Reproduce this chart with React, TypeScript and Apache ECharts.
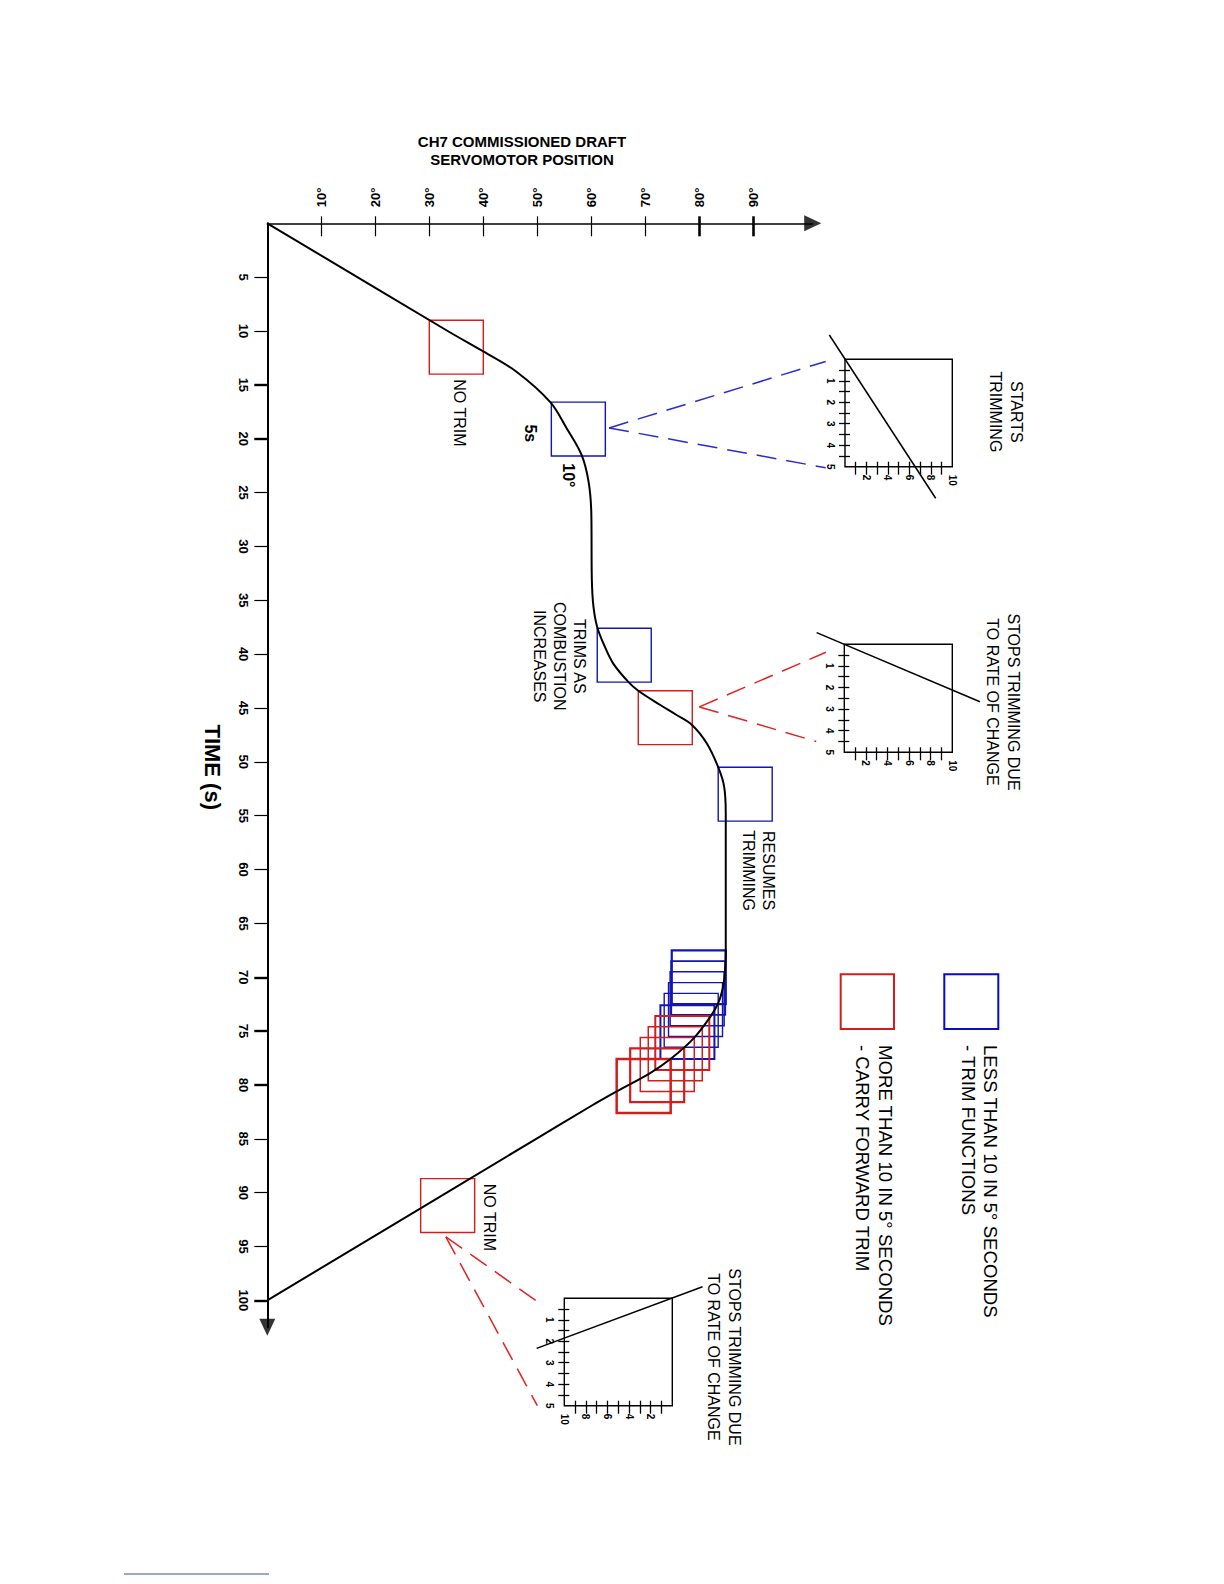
import React, { useEffect, useRef } from "react";
import * as echarts from "echarts";

const FONT = "'Liberation Sans', Arial, Helvetica, sans-serif";
const RED = "#d41c1c";
const BLUE = "#1414b4";
const DASH_RED = "#e02424";
const DASH_BLUE = "#2a2ad0";

// ---- main axes ----
const degreeLabels = [10, 20, 30, 40, 50, 60, 70, 80, 90];
const degreeTicks = [10, 20, 30, 40, 50, 60, 70];
const degreeBoldTicks = [80, 90];
const timeLabels = [5, 10, 15, 20, 25, 30, 35, 40, 45, 50, 55, 60, 65, 70, 75, 80, 85, 90, 95, 100];
const timeTicks = [5, 10, 25, 30, 35, 40, 45, 50, 55, 60, 65, 85, 90, 95];
const timeBoldTicks = [15, 20, 70, 75, 80, 100];
const DEG_MAX = 101;
const TIME_MAX = 102.5;

// ---- servomotor position curve (time s, position deg) ----
const curveTime = [0, 10, 11.9, 13.8, 16.6, 19.0, 21.5, 24.0, 26.9, 33.1, 35.6, 37.5, 39.3, 40.9, 42.6, 43.4, 44.7, 45.65, 46.6, 48.3, 50.5, 52.3, 54.8, 64.7, 67.8, 69.5, 70.9, 72.4, 73.7, 75.7, 77.5, 78.9, 80.6, 82.0, 85, 100];
const curveDeg = [0, 33.4, 40.0, 46.2, 52.4, 55.4, 58.2, 59.5, 60.0, 60.1, 60.4, 61.1, 62.5, 64.1, 66.9, 68.7, 72.7, 75.8, 78.7, 81.4, 83.5, 84.6, 84.9, 84.9, 84.9, 84.76, 84.4, 83.5, 82.0, 78.9, 74.9, 70.9, 64.7, 59.8, 49.8, 0];

// ---- 10 deg x 5 s check windows ----
const WINDOW_DEG = 10;
const WINDOW_SEC = 5;
const markerDegLeft = [30, 52.6, 61.1, 68.7, 83.5, 28.4];
const markerTimeTop = [9, 16.6, 37.6, 43.4, 50.5, 88.7];
const markerIsRed = [1, 0, 0, 1, 0, 1];

const clusterTimeTop = [67.5, 68.5, 69.5, 70.5, 71.5, 72.6, 73.6, 74.6, 75.6, 76.6, 77.6];
const clusterDegRight = [84.9, 84.8, 84.6, 84.3, 83.5, 82.8, 81.85, 80.55, 79.07, 77.2, 74.7];
const clusterIsRed = [0, 0, 0, 0, 0, 0, 1, 1, 1, 1, 1];
const clusterWidth = [2.2, 1.8, 1.5, 1.4, 1.4, 2.0, 2.0, 1.5, 1.5, 2.2, 2.5];

// ---- inset charts (0-10 deg, 0-5 s) ----
const insetTimeLabels = [1, 2, 3, 4, 5];
const insetTimeTicks = [0.5, 1, 1.5, 2, 2.5, 3, 3.5, 4, 4.5];
const insetDegLabels = [2, 4, 6, 8, 10];
const insetDegTicks = [1, 2, 3, 4, 5, 6, 7, 8, 9];
const inset1Deg = [-1.46, 8.45];
const inset1Time = [-1.13, 6.47];
const inset2Deg = [-2.56, 12.56];
const inset2Time = [-0.54, 2.66];
const inset3Deg = [-2.8, 12.56];
const inset3Time = [-0.54, 2.33];
const insetLines = [
  [inset1Deg, inset1Time],
  [inset2Deg, inset2Time],
  [inset3Deg, inset3Time],
];
const insetInverseDeg = [false, false, true];

// layout of grids (px)
const MAIN_GRID = { left: 267.3, top: 223.3, width: 545.4, height: 1104 };
const INSET_RECTS = [
  [845, 359.3, 107.3, 107.4],
  [844.3, 644.3, 108, 108],
  [564.3, 1298.3, 108, 107.4],
];

// connectors: tip in main coords [deg, time], ends in inset coords [deg, time]
const connectorTip = [
  [63.3, 19.0],
  [80.0, 44.9],
  [33.06, 94.1],
];
const connectorEnds = [
  [[-1.8, 0.1], [-1.8, 5.05]],
  [[-1.7, 0.37], [-2.6, 4.5]],
  [[12.5, 0.15], [12.5, 5.0]],
];
const connectorColor = [DASH_BLUE, DASH_RED, DASH_RED];

export default function App() {
  const ref = useRef<HTMLDivElement>(null);

  useEffect(() => {
    if (!ref.current) return;
    const chart = echarts.init(ref.current, undefined, { renderer: "svg" });

    const grids: any[] = [
      { ...MAIN_GRID, show: false, containLabel: false, outerBoundsMode: "none" },
      ...INSET_RECTS.map((r) => ({
        left: r[0], top: r[1], width: r[2], height: r[3],
        show: true, borderColor: "#000", borderWidth: 1.4, backgroundColor: "transparent",
        containLabel: false, outerBoundsMode: "none",
      })),
    ];

    const baseAxis = {
      type: "value",
      splitLine: { show: false },
      axisLine: { show: false, onZero: false },
      axisLabel: { show: false },
      axisTick: { show: false },
    };

    const mainDegTickAxis = (values: number[], inside: boolean, len: number, w: number, labels: boolean) => ({
      ...baseAxis,
      gridIndex: 0,
      position: "top",
      min: 0,
      max: DEG_MAX,
      axisLine: labels
        ? { show: true, onZero: false, lineStyle: { color: "#000", width: 1.5 } }
        : { show: false, onZero: false },
      axisTick: { show: true, inside, length: len, customValues: values, lineStyle: { color: "#000", width: w } },
      axisLabel: labels
        ? {
            show: true, customValues: degreeLabels, rotate: -90, margin: 16,
            formatter: "{value}°", color: "#000", fontSize: 13, fontWeight: "bold", fontFamily: FONT,
          }
        : { show: false },
    });

    const xAxes: any[] = [
      mainDegTickAxis(degreeTicks, false, 7, 1.2, true),
      mainDegTickAxis(degreeTicks, true, 13, 1.2, false),
      mainDegTickAxis(degreeBoldTicks, false, 7, 2.6, false),
      mainDegTickAxis(degreeBoldTicks, true, 13, 2.6, false),
    ];
    const yAxes: any[] = [
      {
        ...baseAxis,
        gridIndex: 0, position: "left", inverse: true, min: 0, max: TIME_MAX,
        axisLine: { show: true, onZero: false, lineStyle: { color: "#000", width: 2 } },
        axisTick: { show: true, inside: false, length: 13, customValues: timeTicks, lineStyle: { color: "#000", width: 1.2 } },
        axisLabel: {
          show: true, customValues: timeLabels, rotate: -90, margin: 17,
          color: "#000", fontSize: 13, fontWeight: "bold", fontFamily: FONT,
        },
      },
      {
        ...baseAxis,
        gridIndex: 0, position: "left", inverse: true, min: 0, max: TIME_MAX,
        axisTick: { show: true, inside: false, length: 13, customValues: timeBoldTicks, lineStyle: { color: "#000", width: 2.4 } },
      },
    ];

    INSET_RECTS.forEach((_, k) => {
      const g = k + 1;
      xAxes.push({
        ...baseAxis, gridIndex: g, position: "bottom", min: 0, max: 10, inverse: insetInverseDeg[k],
        axisTick: { show: true, inside: false, length: 8, customValues: insetDegTicks, lineStyle: { color: "#000", width: 1.3 } },
        axisLabel: { show: true, customValues: insetDegLabels, rotate: -90, margin: 8, color: "#000", fontSize: 10, fontWeight: "bold", fontFamily: FONT },
      });
      xAxes.push({
        ...baseAxis, gridIndex: g, position: "bottom", min: 0, max: 10, inverse: insetInverseDeg[k],
        axisTick: { show: true, inside: true, length: 5, customValues: insetDegTicks, lineStyle: { color: "#000", width: 1.3 } },
      });
      yAxes.push({
        ...baseAxis, gridIndex: g, position: "left", min: 0, max: 5, inverse: true,
        axisTick: { show: true, inside: false, length: 6, customValues: insetTimeTicks, lineStyle: { color: "#000", width: 1.3 } },
        axisLabel: { show: true, customValues: insetTimeLabels, rotate: -90, margin: 10, color: "#000", fontSize: 10, fontWeight: "bold", fontFamily: FONT },
      });
      yAxes.push({
        ...baseAxis, gridIndex: g, position: "left", min: 0, max: 5, inverse: true,
        axisTick: { show: true, inside: true, length: 5, customValues: insetTimeTicks, lineStyle: { color: "#000", width: 1.3 } },
      });
    });

    const boxData = [
      ...markerDegLeft.map((d, i) => [d, markerTimeTop[i], d + WINDOW_DEG, markerTimeTop[i] + WINDOW_SEC, markerIsRed[i], 1.4]),
      ...clusterDegRight.map((d, i) => [d - WINDOW_DEG, clusterTimeTop[i], d, clusterTimeTop[i] + WINDOW_SEC, clusterIsRed[i], clusterWidth[i]]),
    ];

    const series: any[] = [
      {
        type: "custom",
        xAxisIndex: 0,
        yAxisIndex: 0,
        silent: true,
        clip: false,
        data: boxData,
        renderItem: (_p: any, api: any) => {
          const p0 = api.coord([api.value(0), api.value(1)]);
          const p1 = api.coord([api.value(2), api.value(3)]);
          return {
            type: "rect",
            shape: {
              x: Math.min(p0[0], p1[0]),
              y: Math.min(p0[1], p1[1]),
              width: Math.abs(p1[0] - p0[0]),
              height: Math.abs(p1[1] - p0[1]),
            },
            style: { fill: "none", stroke: api.value(4) ? RED : BLUE, lineWidth: api.value(5) },
          };
        },
      },
      {
        type: "line",
        xAxisIndex: 0,
        yAxisIndex: 0,
        data: curveTime.map((t, i) => [curveDeg[i], t]),
        symbol: "none",
        smooth: 0.35,
        clip: false,
        silent: true,
        lineStyle: { color: "#000", width: 2 },
        z: 5,
      },
      {
        type: "scatter",
        xAxisIndex: 0,
        yAxisIndex: 0,
        clip: false,
        silent: true,
        symbol: "triangle",
        symbolSize: [16, 17],
        itemStyle: { color: "#000" },
        data: [
          { value: [DEG_MAX, 0], symbolRotate: -90 },
          { value: [0, TIME_MAX], symbolRotate: 180 },
        ],
        z: 6,
      },
      ...insetLines.map((ln, k) => ({
        type: "custom",
        xAxisIndex: 4 + 2 * k,
        yAxisIndex: 2 + 2 * k,
        clip: false,
        silent: true,
        data: [[ln[0][0], ln[1][0], ln[0][1], ln[1][1]]],
        renderItem: (_p: any, api: any) => {
          const a = api.coord([api.value(0), api.value(1)]);
          const b = api.coord([api.value(2), api.value(3)]);
          return {
            type: "line",
            shape: { x1: a[0], y1: a[1], x2: b[0], y2: b[1] },
            style: { stroke: "#000", lineWidth: 1.5, fill: "none" },
          };
        },
      })),
    ];

    chart.setOption({
      animation: false,
      backgroundColor: "#fff",
      textStyle: { fontFamily: FONT },
      grid: grids,
      xAxis: xAxes,
      yAxis: yAxes,
      series,
    });

    const toMain = (d: number, t: number) => chart.convertToPixel({ xAxisIndex: 0, yAxisIndex: 0 } as any, [d, t]) as number[];
    const toInset = (k: number, d: number, t: number) =>
      chart.convertToPixel({ xAxisIndex: 4 + 2 * k, yAxisIndex: 2 + 2 * k } as any, [d, t]) as number[];

    const vtext = (p: number[], text: string, o: any = {}) => ({
      type: "text",
      x: p[0],
      y: p[1],
      rotation: -Math.PI / 2,
      silent: true,
      style: {
        text,
        fill: "#000",
        fontSize: o.fontSize ?? 16,
        fontWeight: o.fontWeight ?? "normal",
        fontFamily: FONT,
        align: o.align ?? "center",
        verticalAlign: "middle",
        lineHeight: o.lineHeight ?? 20,
      },
    });

    const graphics: any[] = [];
    // connectors
    connectorTip.forEach((tip, k) => {
      const a = toMain(tip[0], tip[1]);
      connectorEnds[k].forEach((e) => {
        const b = toInset(k, e[0], e[1]);
        graphics.push({
          type: "line",
          silent: true,
          shape: { x1: a[0], y1: a[1], x2: b[0], y2: b[1] },
          style: { stroke: connectorColor[k], lineWidth: 1.5, lineDash: [20, 10] },
        });
      });
    });

    // title
    graphics.push({
      type: "text",
      x: 522,
      y: 150,
      silent: true,
      style: {
        text: "CH7 COMMISSIONED DRAFT\nSERVOMOTOR POSITION",
        fill: "#000", fontSize: 15, fontWeight: "bold", fontFamily: FONT,
        align: "center", verticalAlign: "middle", lineHeight: 18,
      },
    });

    // main annotations
    graphics.push(vtext(toMain(-10.2, 50.5), "TIME (s)", { fontSize: 22, fontWeight: "bold" }));
    graphics.push(vtext(toMain(35.5, 17.6), "NO TRIM"));
    graphics.push(vtext(toMain(48.8, 19.5), "5s", { fontWeight: "bold" }));
    graphics.push(vtext(toMain(55.8, 23.4), "10°", { fontWeight: "bold" }));
    graphics.push(vtext(toMain(54.2, 40.2), "TRIMS AS\nCOMBUSTION\nINCREASES", { lineHeight: 20 }));
    graphics.push(vtext(toMain(90.9, 60.1), "RESUMES\nTRIMMING", { lineHeight: 20 }));
    graphics.push(vtext(toMain(41.2, 92.3), "NO TRIM"));

    // inset captions
    graphics.push(vtext(toInset(0, 15.0, 2.45), "STARTS\nTRIMMING", { lineHeight: 21 }));
    graphics.push(vtext(toInset(1, 14.7, 2.67), "STOPS TRIMMING DUE\nTO RATE OF CHANGE", { lineHeight: 21 }));
    graphics.push(vtext(toInset(2, -4.83, 2.73), "STOPS TRIMMING DUE\nTO RATE OF CHANGE", { lineHeight: 21 }));

    // legend
    graphics.push({
      type: "rect", silent: true,
      shape: { x: 944.3, y: 974.3, width: 54, height: 54.7 },
      style: { fill: "none", stroke: "#0a0ac8", lineWidth: 2 },
    });
    graphics.push({
      type: "rect", silent: true,
      shape: { x: 840.7, y: 974.3, width: 53.3, height: 54.7 },
      style: { fill: "none", stroke: RED, lineWidth: 2 },
    });
    graphics.push(vtext([979.5, 1045], "LESS THAN 10 IN 5° SECONDS\n- TRIM FUNCTIONS", { fontSize: 18.6, align: "left", lineHeight: 22 }));
    graphics.push(vtext([873.5, 1045], "MORE THAN 10 IN 5° SECONDS\n- CARRY FORWARD TRIM", { fontSize: 18.6, align: "left", lineHeight: 23 }));

    // footnote separator
    graphics.push({
      type: "line", silent: true,
      shape: { x1: 124, y1: 1574, x2: 269, y2: 1574 },
      style: { stroke: "#3a4a9a", lineWidth: 1 },
    });

    chart.setOption({ graphic: graphics });

    return () => chart.dispose();
  }, []);

  return (
    <div
      ref={ref}
      style={{ position: "absolute", left: 0, top: 0, width: 1224, height: 1584, background: "#fff" }}
    />
  );
}
